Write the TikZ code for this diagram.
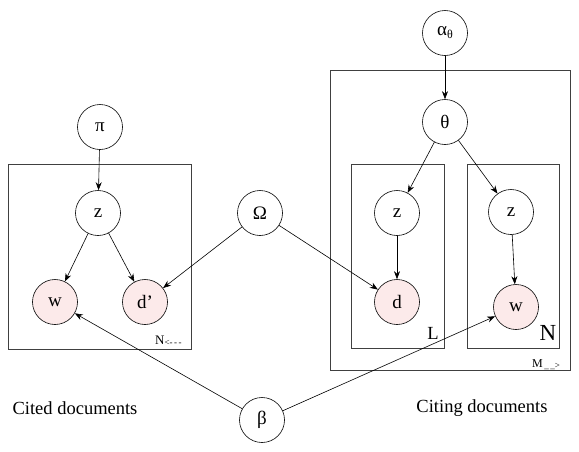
\documentclass[tikz,border=0pt]{standalone}
\usepackage{fontspec}
\setmainfont{Liberation Serif}
\usetikzlibrary{arrows.meta}
\definecolor{obs}{HTML}{FCEAEA}
\tikzset{
  var/.style={circle,draw,line width=0.6pt,minimum size=45pt,inner sep=0pt,font=\fontsize{19}{21}\selectfont},
  obsvar/.style={var,fill=obs},
  plate/.style={draw,line width=0.9pt,black!75},
  edge/.style={-{Stealth[length=8pt,width=6pt]},line width=0.6pt},
  lab/.style={font=\fontsize{18.5}{20}\selectfont,inner sep=0pt}
}
\begin{document}
\begin{tikzpicture}[x=1pt,y=-1pt]
\useasboundingbox (0,0) rectangle (579,451);
% plates
\draw[plate] (8,164) rectangle (191,349);
\draw[plate] (330,70) rectangle (570,370);
\draw[plate] (351,164) rectangle (444,348);
\draw[plate] (467,164) rectangle (559,348);
% nodes
\node[var] (pi) at (100,127) {π};
\node[var] (z1) at (98,213) {z};
\node[obsvar] (w1) at (55,302) {w};
\node[obsvar] (dp) at (145,302) {d’};
\node[var] (om) at (260,213) {Ω};
\node[var] (al) at (445,33) {α\raisebox{-3pt}{\fontsize{12}{13}\selectfont θ}};
\node[var] (th) at (445,122) {θ};
\node[var] (z2) at (397,213) {z};
\node[obsvar] (d) at (397,302) {d};
\node[var] (z3) at (511,212) {z};
\node[obsvar] (w2) at (516,307) {w};
\node[var] (be) at (262,420) {β};
% labels
\node[lab,anchor=base west,font=\fontsize{13}{14}\selectfont] (nl) at (155,344) {N\raisebox{-1pt}{\fontsize{9}{10}\selectfont<-\,-\,-}};
\node[lab,anchor=base] (ll) at (433,339) {L};
\node[lab,anchor=base,font=\fontsize{23}{25}\selectfont] (nr) at (548,340) {N};
\node[lab,anchor=base west,font=\fontsize{12}{13}\selectfont] (ml) at (532,367) {M\raisebox{-1pt}{\fontsize{9}{10}\selectfont\,\_\,\_>}};
\node[lab] (cited) at (75,408) {Cited documents};
\node[lab] (citing) at (482,408) {Citing documents};
% edges
\draw[edge] (pi) -- (z1);
\draw[edge] (z1) -- (w1);
\draw[edge] (z1) -- (dp);
\draw[edge] (om) -- (dp);
\draw[edge] (om) -- (d);
\draw[edge] (al) -- (th);
\draw[edge] (th) -- (z2);
\draw[edge] (th) -- (z3);
\draw[edge] (z2) -- (d);
\draw[edge] (z3) -- (w2);
\draw[edge] (be) -- (w1);
\draw[edge] (be) -- (w2);
\end{tikzpicture}
\end{document}
